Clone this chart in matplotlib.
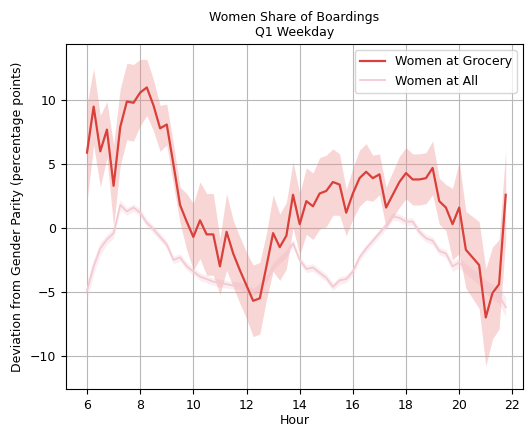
import numpy as np
import matplotlib
matplotlib.use("Agg")
import matplotlib.pyplot as plt

# 15-minute slots from 06:00 to 21:45
hours = np.arange(6.0, 22.0, 0.25)

# deviation from 50/50 share, percentage points
grocery = [5.9, 9.5, 6.0, 7.7, 3.3, 7.9, 9.9, 9.8,
           10.6, 11.0, 9.6, 7.8, 8.1, 5.0, 1.8, 0.5,
           -0.7, 0.6, -0.5, -0.5, -3.0, -0.3, -2.0, -3.3,
           -4.5, -5.7, -5.5, -3.0, -0.4, -1.5, -0.6, 2.6,
           0.3, 2.1, 1.7, 2.7, 2.9, 3.6, 3.4, 1.2,
           2.7, 3.9, 4.4, 3.9, 4.2, 1.6, 2.6, 3.6,
           4.3, 3.8, 3.8, 3.9, 4.7, 2.1, 1.6, 0.3,
           1.6, -1.7, -2.3, -2.9, -7.0, -5.1, -4.4, 2.6]
grocery_ci = [3.8, 3.0, 2.8, 2.2, 3.2, 3.0, 3.0, 3.0,
              2.6, 2.2, 2.0, 1.8, 1.6, 1.6, 1.4, 2.2,
              2.6, 3.0, 3.2, 3.2, 2.2, 3.0, 2.6, 2.6,
              2.6, 2.8, 2.8, 2.6, 3.0, 2.6, 2.6, 2.6,
              2.4, 2.6, 2.6, 2.8, 2.8, 2.6, 2.4, 1.8,
              2.0, 2.2, 2.2, 1.8, 1.6, 1.6, 1.8, 2.0,
              2.0, 2.0, 2.0, 2.0, 2.1, 1.8, 1.8, 2.8,
              3.6, 3.0, 3.2, 3.4, 3.8, 3.6, 3.5, 3.5]

all_stops = [-4.9, -3.0, -1.6, -0.9, -0.4, 1.8, 1.3, 1.6,
             1.2, 0.4, -0.1, -0.7, -1.3, -2.5, -2.3, -3.0,
             -3.4, -3.8, -4.0, -4.2, -4.3, -4.4, -4.5, -4.5,
             -4.8, -5.0, -4.6, -4.0, -3.0, -2.5, -2.0, -1.2,
             -2.5, -3.2, -3.1, -3.5, -3.9, -4.6, -4.1, -4.0,
             -3.4, -2.3, -1.6, -1.0, -0.4, 0.2, 0.9, 0.8,
             0.5, 0.5, -0.3, -0.8, -1.0, -1.8, -2.0, -3.0,
             -2.7, -3.2, -3.6, -4.0, -4.6, -5.0, -5.3, -6.2]
all_ci = [0.8, 0.6, 0.5, 0.4, 0.4, 0.4, 0.3, 0.3,
          0.3, 0.3, 0.3, 0.3, 0.3, 0.3, 0.3, 0.3,
          0.3, 0.3, 0.3, 0.3, 0.3, 0.3, 0.3, 0.3,
          0.3, 0.3, 0.3, 0.3, 0.3, 0.3, 0.3, 0.3,
          0.3, 0.3, 0.3, 0.3, 0.3, 0.3, 0.3, 0.3,
          0.3, 0.3, 0.3, 0.3, 0.3, 0.3, 0.3, 0.3,
          0.3, 0.3, 0.3, 0.3, 0.3, 0.3, 0.3, 0.4,
          0.4, 0.4, 0.4, 0.5, 0.5, 0.6, 0.6, 0.8]

RED = "#d9403a"
PINK = "#f5c9d3"

fig = plt.figure(figsize=(5.25, 4.29), dpi=100)
ax = fig.add_axes([66 / 525, 40 / 429, 457 / 525, 345 / 429])

g = np.array(grocery)
gci = np.array(grocery_ci)
a = np.array(all_stops)
aci = np.array(all_ci)

ax.fill_between(hours, a - aci, a + aci, color=PINK, alpha=0.3, linewidth=0)
ax.plot(hours, a, color=PINK, linewidth=1.3, label="Women at All")

ax.fill_between(hours, g - gci, g + gci, color="#ef8a8a", alpha=0.35, linewidth=0)
ax.plot(hours, g, color=RED, linewidth=1.6, label="Women at Grocery")

ax.set_xlim(5.21, 22.4)
ax.set_ylim(-12.6, 14.4)
ax.set_xticks(range(6, 23, 2))
ax.set_yticks([-10, -5, 0, 5, 10])
ax.grid(True, color="#b8b8b8", linewidth=0.8)
ax.set_axisbelow(True)

ax.set_xlabel("Hour", fontsize=9, labelpad=2)
ax.set_ylabel("Deviation from Gender Parity (percentage points)", fontsize=9)
ax.tick_params(labelsize=9)
ax.set_title("Women Share of Boardings\nQ1 Weekday", fontsize=9)

handles, labels = ax.get_legend_handles_labels()
ax.legend(handles[::-1], labels[::-1], loc="upper right", fontsize=9)

fig.savefig("out.png", dpi=100)
